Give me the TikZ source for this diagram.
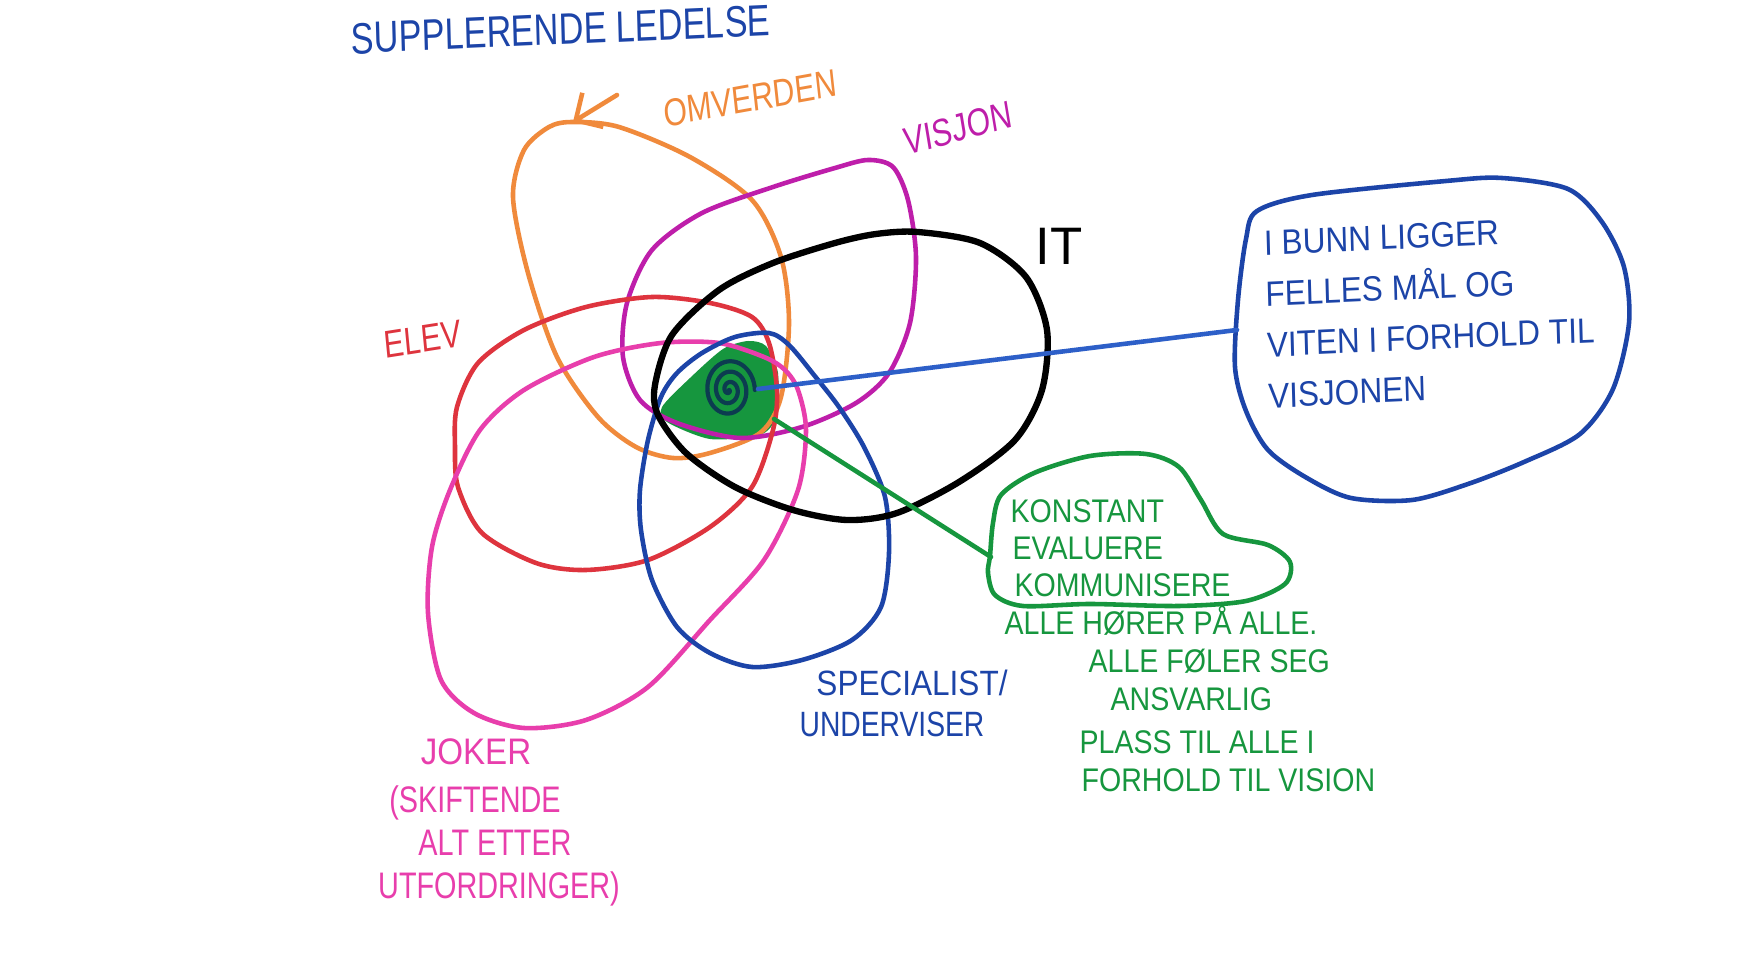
\documentclass[tikz,border=0pt]{standalone}
\usepackage{fontspec}
\setmainfont{Liberation Sans}
\usetikzlibrary{arrows.meta,positioning}
\definecolor{oransje}{RGB}{240,138,60}
\definecolor{lilla}{RGB}{190,30,170}
\definecolor{rosa}{RGB}{232,62,172}
\definecolor{rod}{RGB}{222,52,62}
\definecolor{blaa}{RGB}{28,68,168}
\definecolor{lyseblaa}{RGB}{45,95,200}
\definecolor{gronn}{RGB}{22,150,62}
\definecolor{spiral}{RGB}{12,60,80}

\begin{document}
\begin{tikzpicture}[x=0.01cm,y=-0.01cm,
    penn/.style={line width=1.3pt, line join=round, line cap=round},
    hand/.style={font=\fontsize{11}{12}\selectfont, xscale=0.78, transform shape, inner sep=0pt, text height=0.72em, text depth=0pt},
    liten/.style={hand, font=\fontsize{10}{11}\selectfont},
    stor/.style={hand, font=\fontsize{12.5}{13}\selectfont},
    gronntekst/.style={hand, text=gronn, anchor=west, xscale=1.12, font=\fontsize{9.3}{10}\selectfont}]
        \useasboundingbox (0,0) rectangle (1744,964);
        \fill [white] (0,0) rectangle (1744,964);
        \fill [gronn] plot [smooth cycle, tension=0.45] coordinates {(748,341) (766,346) (778,373) (776,417) (760,435) (710,439) (667,422) (662,407) (690,378) (723,349)};
        \draw [penn, oransje] plot [smooth cycle] coordinates {(573,122) (619,127) (690,157) (752,200) (781,257) (789,323) (781,397) (760,433) (710,453) (673,458) (636,447) (598,417) (557,357) (528,273) (513,197) (524,150) (549,127)};
        \draw [penn, oransje, -{Straight Barb[length=2mm,width=4mm]}] (617,95) -- (573,122);
        \draw [penn, lilla] plot [smooth cycle] coordinates {(868,160) (893,167) (908,200) (916,257) (910,323) (889,373) (856,403) (802,427) (740,438) (677,423) (640,400) (623,357) (627,303) (652,250) (702,213) (773,187) (835,168)};
        \draw [penn, rod] plot [smooth cycle] coordinates {(752,317) (710,303) (652,297) (586,307) (524,330) (478,363) (457,407) (455,447) (458,487) (482,533) (536,563) (586,570) (648,560) (710,527) (752,487) (773,430) (777,390) (769,343)};
        \draw [penn, rosa] plot [smooth cycle] coordinates {(764,357) (719,343) (661,343) (594,357) (524,390) (480,430) (450,490) (432,547) (428,613) (441,680) (474,713) (524,728) (586,720) (648,687) (710,620) (764,560) (798,490) (806,430) (798,390) (785,370)};
        \draw [penn, blaa] plot [smooth cycle] coordinates {(769,333) (735,337) (702,353) (677,373) (661,397) (648,440) (640,490) (641,530) (652,580) (677,627) (710,653) (752,667) (802,660) (852,640) (881,607) (889,553) (885,497) (864,447) (839,407) (814,375) (789,345)};
        \draw [penn, black, line width=1.8pt] plot [smooth cycle] coordinates {(918,232) (980,243) (1026,277) (1047,330) (1042,390) (1015,440) (959,482) (897,513) (847,520) (793,510) (735,487) (686,453) (658,415) (655,385) (672,335) (719,290) (773,263) (835,243) (876,234)};
        \draw [penn, spiral, line width=1.2pt, domain=0:1080, samples=150, variable=\t] plot ({729+0.024*\t*cos(\t)}, {390+0.029*\t*sin(\t)});
        \draw [penn, blaa] plot [smooth cycle] coordinates {(1257,211) (1312,195) (1446,181) (1502,178) (1568,189) (1602,222) (1624,267) (1629,323) (1613,389) (1580,434) (1524,462) (1468,484) (1412,500) (1351,498) (1307,478) (1268,450) (1246,411) (1235,367) (1238,300) (1246,239)};
        \draw [penn, gronn] plot [smooth cycle] coordinates {(990,556) (993,523) (1001,495) (1034,473) (1090,456) (1146,454) (1179,467) (1201,500) (1223,534) (1268,545) (1290,562) (1285,584) (1246,601) (1179,606) (1090,604) (1023,606) (995,595) (988,573)};
        \coordinate (kjerne) at (758,389);
        \coordinate (bunnkant) at (1237,330);
        \draw [penn, lyseblaa] (kjerne) -- (bunnkant);
        \coordinate (flekk) at (774,419);
        \coordinate (evalkant) at (991,557);
        \draw [penn, gronn] (flekk) -- (evalkant);
        \node [stor, text=blaa, rotate=2] (tittel) at (561,32) {SUPPLERENDE LEDELSE};
        \node [hand, text=oransje, rotate=8] (omverden) at (750,99) {OMVERDEN};
        \node [hand, text=lilla, rotate=12] (visjon) at (958,129) {VISJON};
        \node [font=\fontsize{15}{16}\selectfont, inner sep=0pt] (it) at (1059,246) {IT};
        \node [hand, text=rod, rotate=7] (elev) at (423,340) {ELEV};
        \node [hand, text=blaa, rotate=2, align=left, text height=, xscale=1.15, font=\fontsize{10}{14.5}\selectfont] (bunn) at (1430,312) {I BUNN LIGGER\\FELLES MÅL OG\\VITEN I FORHOLD TIL\\VISJONEN};
        \node [liten, text=blaa, xscale=1.15] (spesialist) at (912,683) {SPECIALIST/};
        \node [liten, text=blaa, xscale=1.03] (underviser) at (892,724) {UNDERVISER};
        \node [hand, text=rosa, font=\fontsize{10.5}{11}\selectfont, xscale=1.15] (joker) at (476,752) {JOKER};
        \node [hand, text=rosa, font=\fontsize{10.5}{11}\selectfont] (skiftende) at (475,800) {(SKIFTENDE};
        \node [hand, text=rosa, font=\fontsize{10.5}{11}\selectfont] (altetter) at (495,843) {ALT ETTER};
        \node [hand, text=rosa, font=\fontsize{10.5}{11}\selectfont] (utfordringer) at (499,886) {UTFORDRINGER)};
        \node [gronntekst] (konstant) at (1010,510) {KONSTANT};
        \node [gronntekst] (evaluere) at (1012,547) {EVALUERE};
        \node [gronntekst] (kommunisere) at (1014,584) {KOMMUNISERE};
        \node [gronntekst] (horer) at (1004,622) {ALLE HØRER PÅ ALLE.};
        \node [gronntekst] (foler) at (1088,660) {ALLE FØLER SEG};
        \node [gronntekst] (ansvarlig) at (1110,698) {ANSVARLIG};
        \node [gronntekst] (plass) at (1079,741) {PLASS TIL ALLE I};
        \node [gronntekst] (forhold) at (1081,779) {FORHOLD TIL VISION};
        \end{tikzpicture}
\end{document}
